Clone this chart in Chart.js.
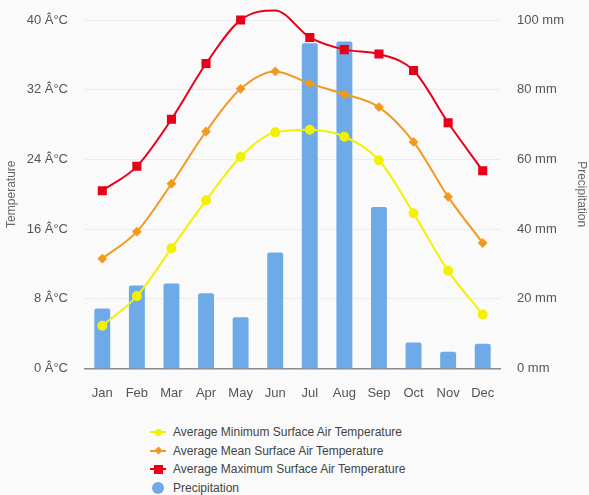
<!DOCTYPE html>
<html>
<head>
<meta charset="utf-8">
<script src="https://cdn.jsdelivr.net/npm/chart.js@4"></script>
<style>
  html, body { margin: 0; padding: 0; background: #fafafa; }
  body { width: 589px; height: 495px; position: relative; overflow: hidden; font-family: "Liberation Sans", Arial, sans-serif; }
  #wrap { position: absolute; left: 0; top: 0; width: 589px; height: 422px; }
  #legend { position: absolute; left: 148px; top: 423px; font-size: 12px; color: #444; }
  #legend .row { height: 18.6px; line-height: 18.6px; display: flex; align-items: center; }
  #legend .mk { position: relative; width: 20px; height: 12px; margin-right: 5px; }
  #legend .ln { position: absolute; left: 2px; top: 5px; width: 16px; height: 2px; }
  #legend .pt { position: absolute; }
</style>
</head>
<body>
<div id="wrap"><canvas id="climateChart"></canvas></div>
<div id="legend"></div>
<script>
// Monthly climate data
const months = ['Jan', 'Feb', 'Mar', 'Apr', 'May', 'Jun', 'Jul', 'Aug', 'Sep', 'Oct', 'Nov', 'Dec'];
const minTemp = [4.9, 8.3, 13.8, 19.3, 24.3, 27.1, 27.4, 26.6, 23.9, 17.8, 11.2, 6.2];
const meanTemp = [12.6, 15.7, 21.2, 27.2, 32.1, 34.1, 32.7, 31.5, 30.0, 26.0, 19.7, 14.4];
const maxTemp = [20.4, 23.2, 28.6, 35.0, 40.0, 41.1, 38.0, 36.6, 36.1, 34.2, 28.2, 22.7];
const precipitation = [17.2, 23.8, 24.4, 21.6, 14.7, 33.3, 93.3, 93.8, 46.3, 7.4, 4.8, 7.1];
const tempTicks = ['0 Â°C', '8 Â°C', '16 Â°C', '24 Â°C', '32 Â°C', '40 Â°C'];
const rainTicks = ['0 mm', '20 mm', '40 mm', '60 mm', '80 mm', '100 mm'];

const YELLOW = '#f2f200';
const ORANGE = '#f29a1f';
const RED = '#e8001a';
const BLUE = '#6eaae8';

const tickFont = { family: '"Liberation Sans", Arial, sans-serif', size: 13 };
const titleFont = { family: '"Liberation Sans", Arial, sans-serif', size: 12 };

// fixed axis width, and no extra top padding from tick labels
function fitSide(width) {
    return scale => {
        scale.width = width;
        scale.paddingTop = 0;
        scale.paddingBottom = 0;
    };
}

const ctx = document.getElementById('climateChart').getContext('2d');
const climateChart = new Chart(ctx, {
    data: {
        labels: months,
        datasets: [
            {
                type: 'line',
                label: 'Average Minimum Surface Air Temperature',
                data: minTemp,
                borderColor: YELLOW,
                backgroundColor: YELLOW,
                borderWidth: 2,
                pointStyle: 'circle',
                pointRadius: 4,
                cubicInterpolationMode: 'monotone',
                yAxisID: 'y',
                order: 1,
                clip: false
            },
            {
                type: 'line',
                label: 'Average Mean Surface Air Temperature',
                data: meanTemp,
                borderColor: ORANGE,
                backgroundColor: ORANGE,
                borderWidth: 2,
                pointStyle: 'rectRot',
                pointRadius: 3.5,
                cubicInterpolationMode: 'monotone',
                yAxisID: 'y',
                order: 1,
                clip: false
            },
            {
                type: 'line',
                label: 'Average Maximum Surface Air Temperature',
                data: maxTemp,
                borderColor: RED,
                backgroundColor: RED,
                borderWidth: 2,
                pointStyle: 'rect',
                pointRadius: 5,
                cubicInterpolationMode: 'monotone',
                yAxisID: 'y',
                order: 1,
                clip: false
            },
            {
                type: 'bar',
                label: 'Precipitation',
                data: precipitation,
                backgroundColor: BLUE,
                borderRadius: 2,
                borderSkipped: 'bottom',
                barPercentage: 0.46,
                categoryPercentage: 1,
                yAxisID: 'y1',
                order: 2
            }
        ]
    },
    options: {
        responsive: true,
        maintainAspectRatio: false,
        animation: false,
        layout: { padding: { top: 20, left: 0, right: 0, bottom: 4 } },
        plugins: {
            legend: { display: false },
            tooltip: { enabled: false }
        },
        scales: {
            x: {
                grid: { display: false, drawTicks: false },
                border: { display: true, color: '#8a8a8a', width: 1.5 },
                ticks: { color: '#555', font: tickFont, padding: 17 }
            },
            y: {
                position: 'left',
                min: 0,
                max: 40,
                afterFit: fitSide(85),
                grid: { color: '#ececec', drawTicks: false },
                border: { display: false },
                ticks: {
                    stepSize: 8,
                    color: '#555',
                    font: tickFont,
                    padding: 17,
                    callback: (v, i) => tempTicks[i]
                },
                title: { display: true, text: 'Temperature', color: '#666', font: titleFont, padding: 4 }
            },
            y1: {
                position: 'right',
                min: 0,
                max: 100,
                afterFit: fitSide(89),
                grid: { display: false, drawTicks: false },
                border: { display: false },
                ticks: {
                    stepSize: 20,
                    color: '#555',
                    font: tickFont,
                    padding: 17,
                    callback: (v, i) => rainTicks[i]
                },
                title: { display: true, text: 'Precipitation', color: '#666', font: titleFont, padding: 0 }
            }
        }
    }
});

// HTML legend, one item per row
const legend = document.getElementById('legend');
climateChart.data.datasets.forEach(ds => {
    const row = document.createElement('div');
    row.className = 'row';
    const mk = document.createElement('span');
    mk.className = 'mk';
    if (ds.type === 'line') {
        const ln = document.createElement('i');
        ln.className = 'ln';
        ln.style.background = ds.borderColor;
        mk.appendChild(ln);
        const pt = document.createElement('i');
        pt.className = 'pt';
        const s = ds.pointStyle === 'rect' ? 9 : 7;
        pt.style.width = s + 'px';
        pt.style.height = s + 'px';
        pt.style.left = (10 - s / 2) + 'px';
        pt.style.top = (6 - s / 2) + 'px';
        pt.style.background = ds.borderColor;
        if (ds.pointStyle === 'circle') pt.style.borderRadius = '50%';
        if (ds.pointStyle === 'rectRot') pt.style.transform = 'rotate(45deg) scale(0.8)';
        mk.appendChild(pt);
    } else {
        const pt = document.createElement('i');
        pt.className = 'pt';
        pt.style.width = '12px';
        pt.style.height = '12px';
        pt.style.left = '4px';
        pt.style.top = '0px';
        pt.style.borderRadius = '50%';
        pt.style.background = ds.backgroundColor;
        mk.appendChild(pt);
    }
    row.appendChild(mk);
    const txt = document.createElement('span');
    txt.textContent = ds.label;
    row.appendChild(txt);
    legend.appendChild(row);
});
</script>
</body>
</html>
